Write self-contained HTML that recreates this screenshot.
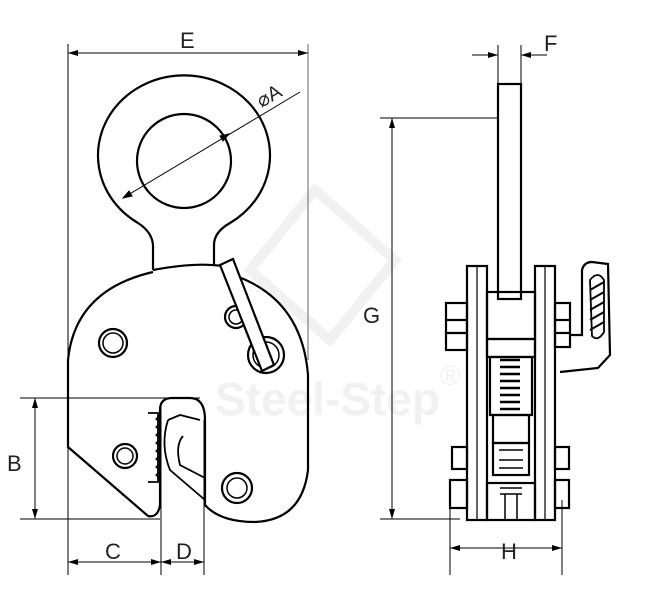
<!DOCTYPE html>
<html><head><meta charset="utf-8"><style>
html,body{margin:0;padding:0;background:#fff;}
svg{display:block}
text{font-family:"Liberation Sans",sans-serif;fill:#222}
</style></head><body>
<svg width="652" height="612" viewBox="0 0 652 612" xmlns="http://www.w3.org/2000/svg">
<defs>
<marker id="a" viewBox="0 0 10 6" refX="10" refY="3" markerWidth="10" markerHeight="6" orient="auto-start-reverse" markerUnits="userSpaceOnUse"><path d="M0,0 L10,3 L0,6z" fill="#000"/></marker>
</defs>
<!-- watermark -->
<g fill="none" stroke="#f1f1f1" stroke-width="10">
<path d="M315,190 L395,260 L330,340 L250,270 Z"/>
</g>
<text x="215" y="415" font-size="46" font-weight="bold" style="fill:#f1f1f1">Steel-Step</text>
<text x="440" y="385" font-size="28" style="fill:#f1f1f1">®</text>

<g fill="none" stroke="#000" stroke-width="1">
<line x1="68" y1="44" x2="68" y2="575"/>
<line x1="308" y1="44" x2="308" y2="360" stroke="#666"/>
<line x1="68" y1="53" x2="308" y2="53" marker-start="url(#a)" marker-end="url(#a)"/>
<line x1="123" y1="198" x2="300" y2="92"/>
<path d="M123,198 l9,-2 l-3,-5z M229,134 l-9,2 l3,5z" fill="#000"/>
<line x1="20" y1="398" x2="200" y2="398"/>
<line x1="20" y1="519" x2="160" y2="519"/>
<line x1="35" y1="398" x2="35" y2="519" marker-start="url(#a)" marker-end="url(#a)"/>
<line x1="161" y1="405" x2="161" y2="575"/>
<line x1="204" y1="420" x2="204" y2="575"/>
<line x1="68" y1="562" x2="161" y2="562" marker-start="url(#a)" marker-end="url(#a)"/>
<line x1="161" y1="562" x2="204" y2="562" marker-start="url(#a)" marker-end="url(#a)"/>
<line x1="498" y1="45" x2="498" y2="84"/>
<line x1="521" y1="45" x2="521" y2="84"/>
<line x1="472" y1="55" x2="498" y2="55" marker-end="url(#a)"/>
<line x1="547" y1="55" x2="521" y2="55" marker-end="url(#a)"/>
<line x1="380" y1="118" x2="498" y2="118"/>
<line x1="380" y1="519" x2="460" y2="519"/>
<line x1="392" y1="118" x2="392" y2="519" marker-start="url(#a)" marker-end="url(#a)"/>
<line x1="450" y1="500" x2="450" y2="575"/>
<line x1="562" y1="500" x2="562" y2="575"/>
<line x1="450" y1="548" x2="562" y2="548" marker-start="url(#a)" marker-end="url(#a)"/>
</g>
<text x="180" y="48" font-size="22">E</text>
<text x="256" y="102" font-size="20" transform="rotate(-30 270 95)">⌀A</text>
<text x="7" y="471" font-size="22">B</text>
<text x="105" y="559" font-size="22">C</text>
<text x="176" y="559" font-size="22">D</text>
<text x="544" y="51" font-size="22">F</text>
<text x="363" y="323" font-size="22">G</text>
<text x="501" y="559" font-size="22">H</text>

<g fill="none" stroke="#000" stroke-width="2.2">
<path d="M153,270 L153,245 Q152,232 138,223 A86,80 0 1 1 230,223 Q214,232 214,245 L214,266"/>
<circle cx="184" cy="161" r="47"/>
<path d="M153,270 Q195,262 222,266 M236,276 Q302,300 308,375 L308,470 Q302,520 255,522 Q220,522 205,505 L205,420 Q205,398 190,398 L172,398 Q160,398 160,410 L160,505 Q158,518 148,516 L68,447 L68,360 Q75,290 153,272"/>
<circle cx="113" cy="343" r="14"/><circle cx="113" cy="343" r="10" stroke-width="1.5"/>
<circle cx="125" cy="456" r="12"/><circle cx="125" cy="456" r="8" stroke-width="1.5"/>
<circle cx="237" cy="488" r="15"/><circle cx="237" cy="488" r="10" stroke-width="1.5"/>
<circle cx="236" cy="317" r="11"/><circle cx="236" cy="317" r="7" stroke-width="1.5"/>
<circle cx="266" cy="355" r="18"/><circle cx="266" cy="355" r="13" stroke-width="1.5"/>
<path d="M220,265 L233,259 L274,365 L262,371 Z" fill="#fff"/>
<path d="M148,413 L158,413 L158,482 L148,482" stroke-width="1.8"/>
<path d="M160,415 l-4,4 l4,4 l-4,4 l4,4 l-4,4 l4,4 l-4,4 l4,4 l-4,4 l4,4 l-4,4 l4,4 l-4,4 l4,4 l-4,4 l4,4" stroke-width="1.2"/>
<path d="M168,420 L180,415 L200,420 M183,436 Q175,445 180,465 L205,478 M168,420 Q160,445 170,470 L205,500" stroke-width="1.8"/>
</g>

<g fill="none" stroke="#000" stroke-width="2.2">
<rect x="498" y="84" width="23" height="215" fill="#fff"/>
<line x1="430" y1="118" x2="498" y2="118" stroke-width="1"/>
<rect x="467" y="266" width="20" height="254" fill="#fff"/>
<line x1="477" y1="266" x2="477" y2="520" stroke-width="1.2"/>
<rect x="535" y="266" width="20" height="254" fill="#fff"/>
<line x1="545" y1="266" x2="545" y2="520" stroke-width="1.2"/>
<rect x="487" y="292" width="48" height="47"/>
<rect x="487" y="339" width="48" height="18"/>
<rect x="490" y="357" width="42" height="58"/>
<path d="M500,360 h20 M500,367 h20 M500,374 h20 M500,381 h20 M500,388 h20 M500,395 h20 M500,402 h20 M500,409 h20" stroke-width="2.5"/>
<rect x="493" y="415" width="36" height="28"/>
<rect x="493" y="443" width="36" height="32"/>
<path d="M499,450 h24 M499,460 h24 M499,468 h24" stroke-width="1.5"/>
<rect x="487" y="483" width="48" height="37"/>
<path d="M500,488 h22 M500,494 h22 M505,494 v25 M517,494 v25" stroke-width="1.5"/>
<rect x="446" y="303" width="21" height="47"/><line x1="446" y1="320" x2="467" y2="320"/><line x1="446" y1="333" x2="467" y2="333"/>
<rect x="555" y="303" width="15" height="44"/><line x1="555" y1="320" x2="570" y2="320"/><line x1="555" y1="333" x2="570" y2="333"/>
<rect x="452" y="447" width="15" height="22"/><rect x="450" y="480" width="17" height="28"/>
<rect x="555" y="447" width="14" height="22"/><rect x="555" y="480" width="14" height="28"/>
<path d="M570,335 L582,335 L582,270 Q584,262 592,262 L608,264 L610,355 L598,368 L560,372"/>
<path d="M590,280 Q598,270 604,280 L604,332 Q598,342 592,336 Z" stroke-width="1.8"/>
<path d="M590,290 l14,-8 M590,300 l14,-8 M590,310 l14,-8 M590,320 l14,-8 M590,330 l14,-8" stroke-width="2"/>
</g>
</svg>
</body></html>
